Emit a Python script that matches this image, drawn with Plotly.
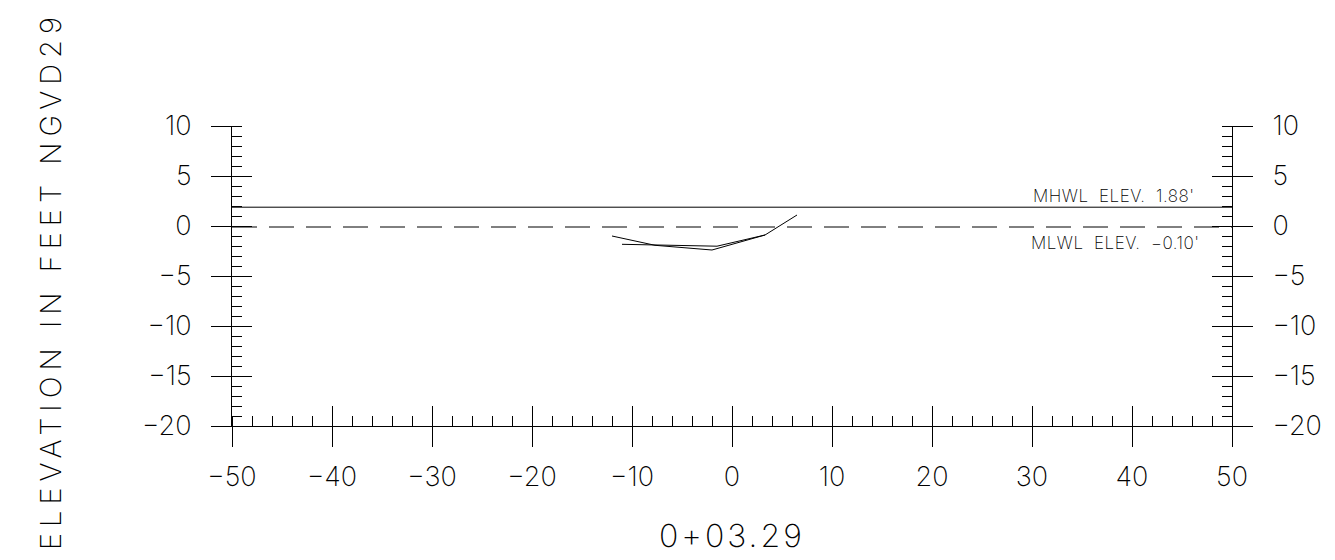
import plotly.graph_objects as go

# ---- data ----
x_range = [-50, 50]
y_range = [-20, 10]
x_tick_vals = [-50, -40, -30, -20, -10, 0, 10, 20, 30, 40, 50]
y_tick_vals = [-20, -15, -10, -5, 0, 5, 10]

mhwl_elev = 1.88
mlwl_elev = -0.10
mhwl_label = "MHWL  ELEV.  1.88'"
mlwl_label = "MLWL  ELEV.  −0.10'"

profile_a_x = [-12.0, -7.7, -2.0, 3.3, 6.5]
profile_a_y = [-1.0, -1.93, -2.4, -0.9, 1.1]
profile_b_x = [-11.0, -1.5, 3.3]
profile_b_y = [-1.83, -2.02, -0.9]

x_title = "0+03.29"
y_title = "ELEVATION IN FEET NGVD29"

FONT = "Inter"
W = 200


def spaced(txt, px):
    return f'<span style="letter-spacing:{px}px">{txt}</span>'


fig = go.Figure()
fig.add_trace(go.Scatter(x=x_range, y=[mhwl_elev, mhwl_elev], mode="lines",
                         line=dict(color="black", width=1), hoverinfo="skip"))
fig.add_trace(go.Scatter(x=x_range, y=[mlwl_elev, mlwl_elev], mode="lines",
                         line=dict(color="black", width=1, dash="25px,12px"), hoverinfo="skip"))
fig.add_trace(go.Scatter(x=profile_a_x, y=profile_a_y, mode="lines",
                         line=dict(color="black", width=1)))
fig.add_trace(go.Scatter(x=profile_b_x, y=profile_b_y, mode="lines",
                         line=dict(color="black", width=1)))
# empty traces so that the overlaying axes are drawn
for xa, ya in [("x", "y2"), ("x", "y3"), ("x", "y4"), ("x2", "y")]:
    fig.add_trace(go.Scatter(x=[None], y=[None], xaxis=xa, yaxis=ya, mode="lines",
                             hoverinfo="skip", showlegend=False))

tickfont = dict(family=FONT, size=27, color="black", weight=W)

common_y = dict(range=y_range, tickvals=y_tick_vals, showgrid=False, zeroline=False,
                tickcolor="black", tickwidth=1, ticklen=20, fixedrange=True)
minor_y = dict(dtick=1, tick0=0, ticks="inside", ticklen=10,
               tickcolor="black", tickwidth=1, showgrid=False)

fig.update_layout(
    width=1327, height=552,
    margin=dict(l=224, r=103, t=118, b=134),
    paper_bgcolor="white", plot_bgcolor="white",
    showlegend=False,
    xaxis=dict(range=x_range, tickvals=x_tick_vals, showgrid=False, zeroline=False,
               ticks="outside", ticklen=20, tickcolor="black", tickwidth=1,
               showline=True, linecolor="black", linewidth=1, fixedrange=True,
               tickfont=tickfont, ticklabelstandoff=7,
               minor=dict(dtick=2, tick0=0, ticks="inside", ticklen=10,
                          tickcolor="black", tickwidth=1, showgrid=False)),
    xaxis2=dict(range=x_range, tickvals=x_tick_vals, overlaying="x", anchor="y",
                side="bottom", ticks="inside", ticklen=20, tickcolor="black",
                tickwidth=1, showticklabels=False, showgrid=False, zeroline=False,
                showline=False, fixedrange=True),
    yaxis=dict(**common_y, ticks="outside", side="left", anchor="x",
               showline=True, linecolor="black", linewidth=1,
               tickfont=tickfont, ticklabelstandoff=14, minor=minor_y),
    yaxis2=dict(**common_y, ticks="outside", side="right", overlaying="y", anchor="x",
                showline=True, linecolor="black", linewidth=1,
                tickfont=tickfont, ticklabelstandoff=14, minor=minor_y),
    yaxis3=dict(**common_y, ticks="inside", side="left", overlaying="y", anchor="x",
                showticklabels=False, showline=False),
    yaxis4=dict(**common_y, ticks="inside", side="right", overlaying="y", anchor="x",
                showticklabels=False, showline=False),
    annotations=[
        dict(x=46.5, y=mhwl_elev, xref="x", yref="y", text=spaced(mhwl_label, 0.5),
             showarrow=False, xanchor="right", yanchor="bottom", yshift=-1,
             font=dict(family=FONT, size=17, color="black", weight=W)),
        dict(x=47, y=mlwl_elev, xref="x", yref="y", text=spaced(mlwl_label, 0.5),
             showarrow=False, xanchor="right", yanchor="top", yshift=-4,
             font=dict(family=FONT, size=17, color="black", weight=W)),
        dict(x=0.5, y=0, xref="paper", yref="paper", yshift=-109, text=spaced(x_title, 3),
             showarrow=False, xanchor="center", yanchor="middle",
             font=dict(family=FONT, size=32, color="black", weight=W)),
        dict(x=0, y=0.5, xref="paper", yref="paper", xshift=-182, yshift=-5,
             text=spaced(y_title, 6), textangle=-90, showarrow=False,
             xanchor="center", yanchor="middle",
             font=dict(family=FONT, size=29, color="black", weight=W)),
    ],
)

fig.write_html("out.html")
